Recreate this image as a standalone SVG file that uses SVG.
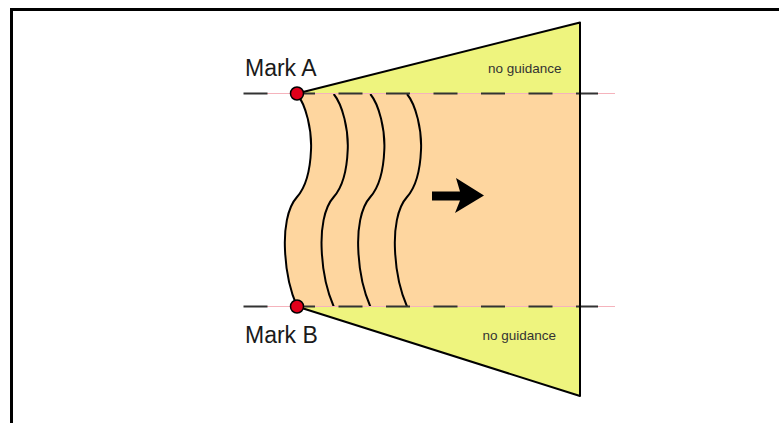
<svg xmlns="http://www.w3.org/2000/svg" width="779" height="423" viewBox="0 0 779 423">
<defs>
<style>
.lbl{font-family:"Liberation Sans",Arial,sans-serif;font-size:23px;fill:#1a1a1a}
.ng{font-family:"Liberation Sans",Arial,sans-serif;font-size:13.5px;fill:#333}
.wave{fill:none;stroke:#000;stroke-width:2}
.edge{fill:none;stroke:#000;stroke-width:2;stroke-linejoin:round}
.dash{fill:none;stroke:#333;stroke-width:2;stroke-dasharray:24 23.5}
.pink{fill:none;stroke:#f5b3bc;stroke-width:1}
.dot{fill:#e0001b;stroke:#000;stroke-width:1.5}
</style>
<path id="wv" d="M297,94 C306,105 312,130 311,150 C310,175 305,188 297,197 C287,208 284,230 285,250 C286,275 292,295 297,306.5"/>
</defs>
<rect width="779" height="423" fill="#fff"/>
<g id="frame">
<line x1="10" y1="9.5" x2="779" y2="9.5" stroke="#000" stroke-width="3"/>
<line x1="11.5" y1="8" x2="11.5" y2="423" stroke="#000" stroke-width="3"/>
</g>
<g id="guided-region">
<path d="M297,94 C306,105 312,130 311,150 C310,175 305,188 297,197 C287,208 284,230 285,250 C286,275 292,295 297,306.5 L580,306.5 L580,93.5 Z" fill="#fed69f"/>
</g>
<g id="no-guidance-top">
<polygon points="297,93.5 580,22.5 580,93.5" fill="#eef47e"/>
<text class="ng" x="488" y="73">no guidance</text>
</g>
<g id="no-guidance-bottom">
<polygon points="297,306.5 580,306.5 580,396" fill="#eef47e"/>
<text class="ng" x="482.5" y="340">no guidance</text>
</g>
<g id="wavefronts">
<use href="#wv" class="wave"/>
<use href="#wv" class="wave" transform="translate(36.7,0)"/>
<use href="#wv" class="wave" transform="translate(73.3,0)"/>
<use href="#wv" class="wave" transform="translate(110,0)"/>
</g>
<g id="connectors">
<line class="pink" x1="244" y1="93.5" x2="615" y2="93.5"/>
<line class="pink" x1="244" y1="306.5" x2="615" y2="306.5"/>
<line class="dash" x1="243.5" y1="93.5" x2="598" y2="93.5"/>
<line class="dash" x1="243.5" y1="306.5" x2="598" y2="306.5"/>
<polyline class="edge" points="297,93.5 580,22.5 580,396 297,306.5"/>
</g>
<g id="arrow">
<path d="M432,191.5 L460,191.5 L456,178 L484,195.5 L455,213 L460,200.5 L432,200.5 Z" fill="#000"/>
</g>
<g id="markA">
<circle class="dot" cx="297" cy="93.5" r="6.5"/>
<text class="lbl" x="245" y="76">Mark A</text>
</g>
<g id="markB">
<circle class="dot" cx="297" cy="306.5" r="6.5"/>
<text class="lbl" x="245" y="342.5">Mark B</text>
</g>
</svg>
